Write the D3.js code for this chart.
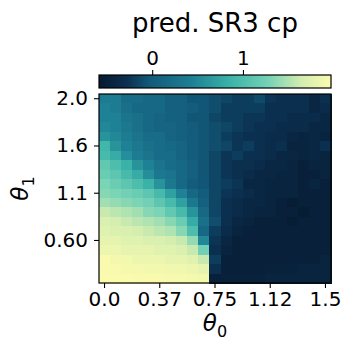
<!DOCTYPE html>
<html>
<head>
<meta charset="utf-8">
<script src="https://cdn.jsdelivr.net/npm/d3@7"></script>
<style>
  body { margin: 0; background: #fff; }
  text { font-family: "DejaVu Sans", sans-serif; fill: #000; }
  .axis path, .axis line { stroke: #000; stroke-width: 1.1; }
</style>
</head>
<body>
<svg id="chart" width="353" height="352"></svg>
<script>
// θ0 columns (x) and θ1 rows (y, top to bottom)
var theta0 = [0.0, 0.075, 0.15, 0.225, 0.3, 0.375, 0.45, 0.525, 0.6, 0.675, 0.75,
              0.825, 0.9, 0.975, 1.05, 1.125, 1.2, 1.275, 1.35, 1.425, 1.5];
var theta1 = [2.0, 1.91, 1.82, 1.73, 1.64, 1.6, 1.5, 1.4, 1.3, 1.2, 1.1,
              1.0, 0.9, 0.8, 0.7, 0.6, 0.5, 0.4, 0.3, 0.2];

var xTickIdx = [0, 5, 10, 15, 20];
var xTickLabels = ["0.0", "0.37", "0.75", "1.12", "1.5"];
var yTickIdx = [0, 5, 10, 15];
var yTickLabels = ["2.0", "1.6", "1.1", "0.60"];
var cbarTicks = [0, 1];

// predicted values, one row per θ1 (top row first)
var values = [
  [0.40, 0.40, 0.20, 0.20, 0.15, 0.15, 0.05, 0.05, -0.05, -0.05, -0.10, -0.15, -0.20, -0.20, -0.12, -0.25, -0.30, -0.30, -0.30, -0.40, -0.30],
  [0.45, 0.40, 0.25, 0.15, 0.15, 0.15, 0.05, 0.05, 0.00, -0.05, -0.10, -0.20, -0.20, -0.20, -0.20, -0.30, -0.30, -0.30, -0.30, -0.40, -0.35],
  [0.45, 0.45, 0.30, 0.25, 0.15, 0.10, 0.05, 0.05, -0.05, -0.05, -0.15, -0.20, -0.20, -0.25, -0.25, -0.30, -0.30, -0.35, -0.35, -0.35, -0.40],
  [0.50, 0.45, 0.35, 0.25, 0.15, 0.10, 0.10, 0.05, 0.00, -0.05, -0.10, -0.15, -0.20, -0.25, -0.30, -0.30, -0.35, -0.35, -0.35, -0.40, -0.40],
  [0.60, 0.50, 0.40, 0.30, 0.20, 0.20, 0.10, 0.05, 0.00, -0.05, -0.10, -0.20, -0.25, -0.30, -0.30, -0.35, -0.35, -0.40, -0.45, -0.40, -0.45],
  [0.90, 0.60, 0.45, 0.35, 0.25, 0.20, 0.15, 0.10, 0.00, -0.05, -0.10, -0.15, -0.25, -0.20, -0.30, -0.35, -0.30, -0.45, -0.45, -0.40, -0.30],
  [0.95, 0.80, 0.55, 0.40, 0.30, 0.20, 0.20, 0.10, 0.00, -0.05, -0.15, -0.25, -0.20, -0.30, -0.30, -0.35, -0.40, -0.40, -0.45, -0.40, -0.45],
  [1.15, 1.00, 0.85, 0.60, 0.45, 0.30, 0.20, 0.15, 0.05, -0.05, -0.15, -0.25, -0.30, -0.30, -0.35, -0.40, -0.40, -0.45, -0.50, -0.45, -0.45],
  [1.20, 1.10, 0.95, 0.80, 0.55, 0.35, 0.30, 0.15, 0.05, -0.05, -0.15, -0.25, -0.30, -0.35, -0.40, -0.40, -0.45, -0.45, -0.50, -0.50, -0.45],
  [1.30, 1.20, 1.10, 1.00, 0.85, 0.60, 0.35, 0.15, 0.00, -0.05, -0.15, -0.20, -0.25, -0.40, -0.40, -0.45, -0.45, -0.45, -0.50, -0.45, -0.50],
  [1.35, 1.30, 1.25, 1.20, 1.10, 0.95, 0.70, 0.45, 0.15, 0.00, -0.15, -0.25, -0.30, -0.35, -0.40, -0.45, -0.45, -0.45, -0.50, -0.50, -0.50],
  [1.45, 1.40, 1.35, 1.30, 1.25, 1.10, 0.95, 0.70, 0.35, 0.05, -0.15, -0.30, -0.35, -0.40, -0.40, -0.45, -0.50, -0.55, -0.50, -0.50, -0.50],
  [1.60, 1.55, 1.50, 1.45, 1.35, 1.30, 1.15, 0.95, 0.60, 0.15, -0.15, -0.30, -0.35, -0.40, -0.45, -0.45, -0.50, -0.50, -0.55, -0.50, -0.50],
  [1.70, 1.65, 1.60, 1.55, 1.50, 1.45, 1.35, 1.20, 0.80, 0.25, -0.10, -0.30, -0.40, -0.45, -0.50, -0.50, -0.50, -0.55, -0.50, -0.50, -0.50],
  [1.75, 1.70, 1.70, 1.65, 1.60, 1.55, 1.50, 1.35, 1.00, 0.15, -0.20, -0.35, -0.45, -0.50, -0.50, -0.50, -0.50, -0.50, -0.50, -0.50, -0.50],
  [1.80, 1.80, 1.75, 1.75, 1.70, 1.70, 1.65, 1.60, 1.40, 0.50, -0.25, -0.40, -0.50, -0.50, -0.50, -0.50, -0.50, -0.50, -0.50, -0.50, -0.50],
  [1.85, 1.85, 1.80, 1.80, 1.80, 1.75, 1.75, 1.70, 1.60, 1.25, -0.30, -0.45, -0.50, -0.50, -0.50, -0.50, -0.50, -0.50, -0.50, -0.50, -0.50],
  [1.95, 1.90, 1.90, 1.85, 1.85, 1.85, 1.80, 1.80, 1.75, 1.60, -0.20, -0.50, -0.50, -0.50, -0.50, -0.50, -0.50, -0.50, -0.50, -0.50, -0.45],
  [1.95, 1.95, 1.92, 1.92, 1.90, 1.90, 1.88, 1.88, 1.85, 1.80, -0.30, -0.50, -0.50, -0.50, -0.50, -0.48, -0.48, -0.48, -0.45, -0.45, -0.45],
  [1.97, 1.97, 1.97, 1.95, 1.95, 1.95, 1.93, 1.93, 1.92, 1.90, -0.50, -0.48, -0.48, -0.48, -0.48, -0.45, -0.45, -0.45, -0.45, -0.45, -0.45]
];

var vmin = -0.586, vmax = 1.97;
// colour ramp (fraction of range -> colour)
var rampPos = [0.0, 0.12, 0.22, 0.40, 0.56, 0.73, 0.87, 1.0];
var rampCol = ["#071a30", "#0b3050", "#135a7a", "#1e7f94", "#3ab2a8", "#75d2b6", "#d2edb0", "#fbfbae"];

var svg = d3.select("#chart"),
    margin = {left: 99, top: 94, right: 22, bottom: 69},
    width = 353 - margin.left - margin.right,
    height = 352 - margin.top - margin.bottom;

var color = d3.scaleLinear()
    .domain(rampPos.map(function(p) { return vmin + p * (vmax - vmin); }))
    .range(rampCol)
    .clamp(true);

var x = d3.scaleBand().domain(d3.range(theta0.length)).range([0, width]).padding(0);
var y = d3.scaleBand().domain(d3.range(theta1.length)).range([0, height]).padding(0);

var g = svg.append("g").attr("transform", "translate(" + margin.left + "," + margin.top + ")");

// heatmap cells
var cells = [];
values.forEach(function(row, i) {
  row.forEach(function(v, j) { cells.push({r: i, c: j, v: v}); });
});

g.append("g")
  .attr("shape-rendering", "crispEdges")
  .selectAll("rect")
  .data(cells)
  .enter().append("rect")
    .attr("x", function(d) { return x(d.c); })
    .attr("y", function(d) { return y(d.r); })
    .attr("width", x.bandwidth() + 1)
    .attr("height", y.bandwidth() + 1)
    .attr("fill", function(d) { return color(d.v); });

g.append("rect")
  .attr("width", width).attr("height", height)
  .attr("fill", "none").attr("stroke", "#000").attr("stroke-width", 1.2);

var xAxis = g.append("g")
  .attr("class", "axis")
  .attr("transform", "translate(0," + height + ")")
  .call(d3.axisBottom(x).tickValues(xTickIdx).tickSize(5).tickPadding(4)
        .tickFormat(function(d, i) { return xTickLabels[i]; }));
xAxis.select(".domain").remove();
xAxis.selectAll("text").attr("font-size", 20).style("font-family", "DejaVu Sans");

var yAxis = g.append("g")
  .attr("class", "axis")
  .call(d3.axisLeft(y).tickValues(yTickIdx).tickSize(5).tickPadding(6)
        .tickFormat(function(d, i) { return yTickLabels[i]; }));
yAxis.select(".domain").remove();
yAxis.selectAll("text").attr("font-size", 20).style("font-family", "DejaVu Sans");

// axis labels
var xl = svg.append("text")
  .attr("x", margin.left + width / 2)
  .attr("y", 331)
  .attr("text-anchor", "middle")
  .attr("font-size", 23);
xl.append("tspan").attr("font-style", "italic").text("θ");
xl.append("tspan").attr("font-size", 16).attr("dy", 6).text("0");

var yl = svg.append("text")
  .attr("transform", "translate(28," + (margin.top + height / 2) + ") rotate(-90)")
  .attr("text-anchor", "middle")
  .attr("font-size", 23);
yl.append("tspan").attr("font-style", "italic").text("θ");
yl.append("tspan").attr("font-size", 16).attr("dy", 6).text("1");

// colorbar
var cbTop = 75, cbH = 13;
var cx = d3.scaleLinear().domain([vmin, vmax]).range([0, width]);

var grad = svg.append("defs").append("linearGradient")
  .attr("id", "cbgrad").attr("x1", "0%").attr("x2", "100%");
grad.selectAll("stop")
  .data(rampPos)
  .enter().append("stop")
    .attr("offset", function(d) { return (d * 100) + "%"; })
    .attr("stop-color", function(d, i) { return rampCol[i]; });

var cb = svg.append("g").attr("transform", "translate(" + margin.left + "," + cbTop + ")");
cb.append("rect")
  .attr("width", width).attr("height", cbH)
  .attr("fill", "url(#cbgrad)")
  .attr("stroke", "#000").attr("stroke-width", 1.2);

var cbAxis = cb.append("g")
  .attr("class", "axis")
  .call(d3.axisTop(cx).tickValues(cbarTicks).tickSize(5).tickPadding(5).tickFormat(d3.format("d")));
cbAxis.select(".domain").remove();
cbAxis.selectAll("text").attr("font-size", 20).style("font-family", "DejaVu Sans");

// title
svg.append("text")
  .attr("x", margin.left + width / 2)
  .attr("y", 32)
  .attr("text-anchor", "middle")
  .attr("font-size", 26)
  .text("pred. SR3 cp");
</script>
</body>
</html>
